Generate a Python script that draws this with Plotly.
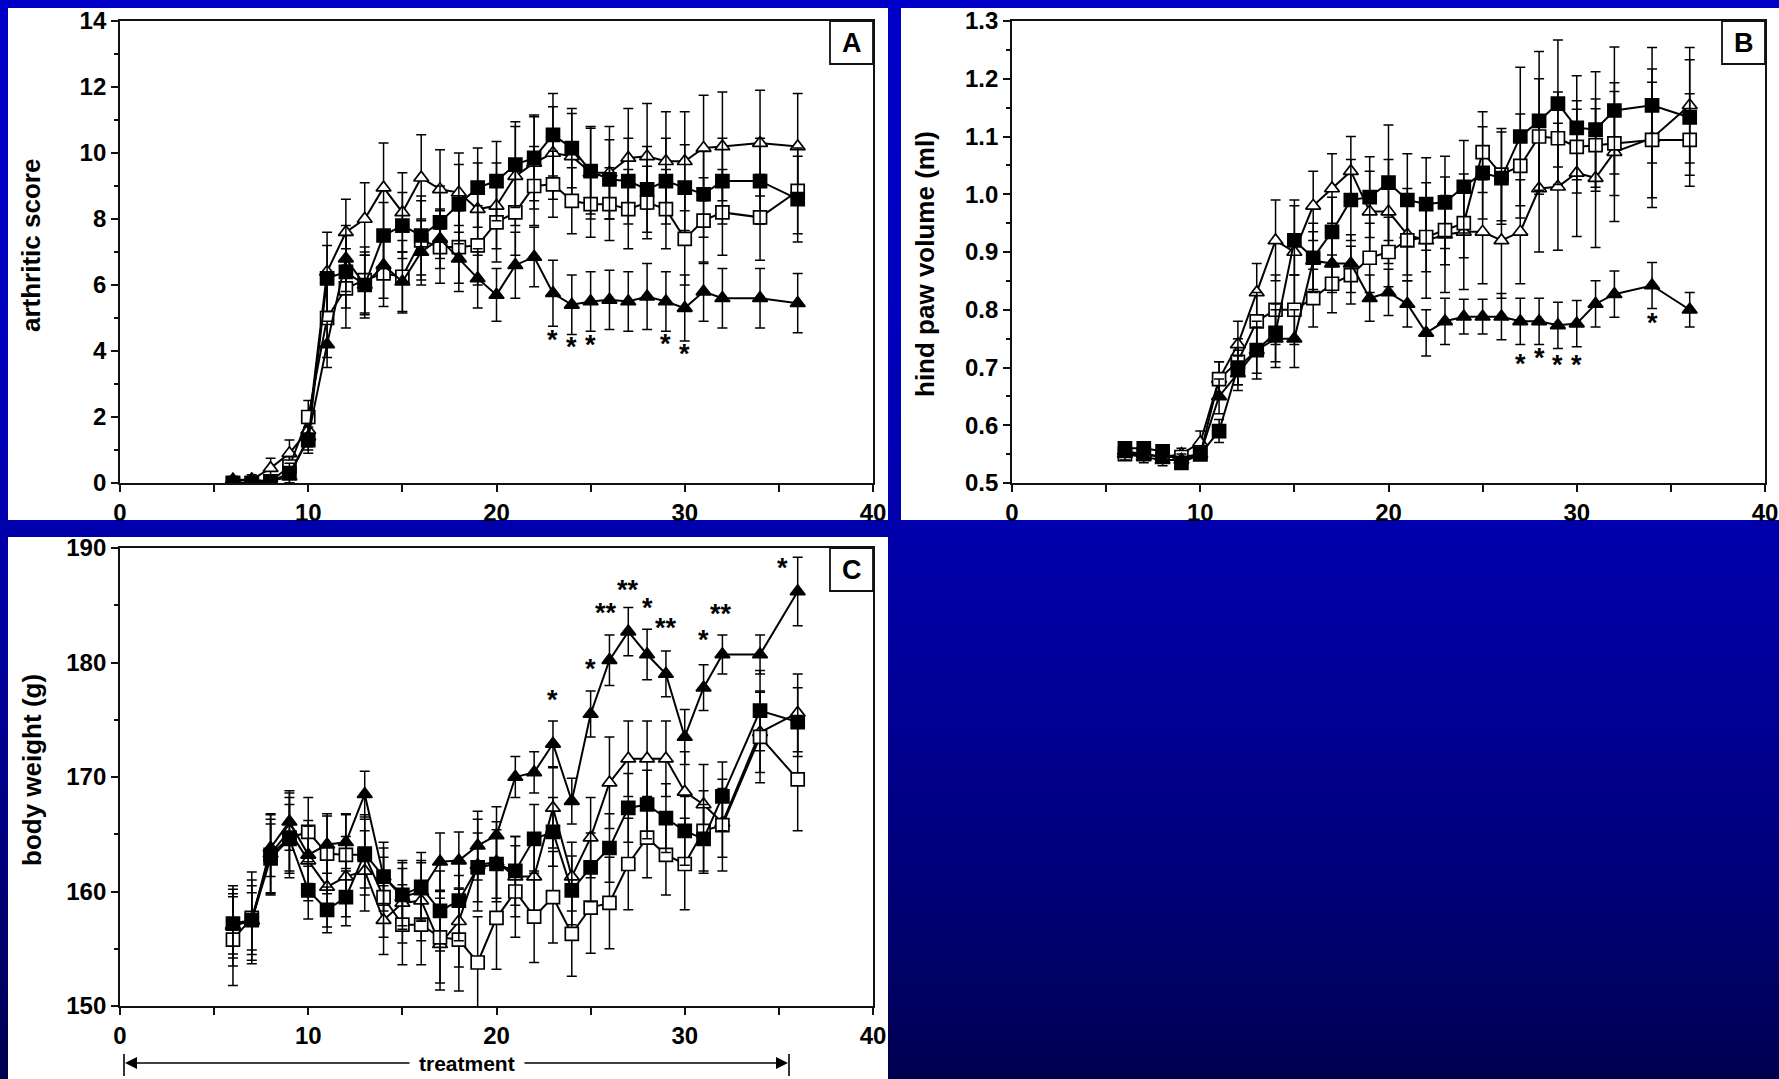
import plotly.graph_objects as go

W, H = 1779, 1079

# ---------------- data ----------------
days = [6, 7, 8, 9, 10, 11, 12, 13, 14, 15, 16, 17, 18, 19, 20, 21, 22, 23, 24, 25,
        26, 27, 28, 29, 30, 31, 32, 34, 36]

# Panel A: arthritic score
a_open_tri = [0.05, 0.1, 0.45, 0.9, 1.6, 6.4, 7.6, 8.0, 8.95, 8.2, 9.25, 8.9, 8.8, 8.3, 8.4,
              9.3, 9.7, 10.0, 9.9, 9.4, 9.4, 9.85, 9.9, 9.75, 9.75, 10.15, 10.2, 10.3, 10.2]
a_fill_sq = [0.0, 0.0, 0.05, 0.3, 1.3, 6.2, 6.4, 6.0, 7.5, 7.8, 7.5, 7.9, 8.45, 8.95, 9.15,
             9.65, 9.85, 10.55, 10.15, 9.45, 9.2, 9.15, 8.9, 9.15, 8.95, 8.75, 9.15, 9.15, 8.6]
a_open_sq = [0.0, 0.0, 0.05, 0.5, 2.0, 5.0, 5.9, 6.15, 6.35, 6.25, 7.35, 7.15, 7.15, 7.2, 7.9,
             8.2, 9.0, 9.05, 8.55, 8.45, 8.45, 8.3, 8.5, 8.3, 7.4, 7.95, 8.2, 8.05, 8.85]
a_fill_tri = [0.1, 0.1, 0.05, 0.2, 1.4, 4.2, 6.8, 6.0, 6.6, 6.1, 7.0, 7.4, 6.8, 6.2, 5.7,
              6.6, 6.85, 5.75, 5.4, 5.5, 5.55, 5.5, 5.65, 5.5, 5.3, 5.8, 5.6, 5.6, 5.45]
a_open_tri_err = [0.1, 0.15, 0.3, 0.4, 0.5, 1.2, 1.0, 1.1, 1.35, 1.2, 1.3, 1.2, 1.2, 1.4, 1.3,
                  1.5, 1.4, 1.4, 1.3, 1.4, 1.4, 1.5, 1.6, 1.5, 1.5, 1.6, 1.65, 1.6, 1.6]
a_fill_sq_err = [0.1, 0.1, 0.1, 0.3, 0.4, 1.0, 1.1, 1.0, 1.0, 1.0, 1.2, 1.1, 1.2, 1.2, 1.2,
                 1.3, 1.3, 1.25, 1.2, 1.3, 1.2, 1.3, 1.3, 1.3, 1.3, 1.3, 1.3, 1.3, 1.3]
a_open_sq_err = [0.1, 0.1, 0.1, 0.3, 0.5, 1.2, 1.2, 1.0, 1.0, 1.1, 1.2, 1.1, 1.1, 1.2, 1.2,
                 1.3, 1.2, 1.0, 1.0, 1.0, 1.1, 1.2, 1.1, 1.2, 1.4, 1.3, 1.3, 1.3, 1.3]
a_fill_tri_err = [0.1, 0.1, 0.1, 0.2, 0.4, 0.7, 1.0, 0.9, 1.0, 0.9, 1.0, 0.9, 1.0, 0.9, 0.8,
                  1.0, 0.9, 1.0, 0.9, 0.9, 0.9, 0.9, 1.0, 0.9, 1.0, 0.9, 0.9, 0.9, 0.9]
a_star_x = [23, 24, 25, 29, 30]
a_star_y = [4.2, 4.0, 4.05, 4.1, 3.8]
a_star_t = ["*", "*", "*", "*", "*"]

# Panel B: hind paw volume (ml)
b_open_tri = [0.555, 0.55, 0.545, 0.55, 0.57, 0.68, 0.74, 0.83, 0.92, 0.90, 0.98, 1.01, 1.04,
              0.97, 0.97, 0.93, 0.92, 0.93, 0.935, 0.935, 0.92, 0.935, 1.01, 1.013, 1.037,
              1.028, 1.073, 1.097, 1.154]
b_fill_sq = [0.56, 0.56, 0.555, 0.535, 0.55, 0.59, 0.70, 0.73, 0.76, 0.92, 0.89, 0.935, 0.99,
             0.995, 1.02, 0.99, 0.983, 0.986, 1.013, 1.037, 1.028, 1.10, 1.127, 1.157, 1.115,
             1.112, 1.145, 1.154, 1.133]
b_open_sq = [0.55, 0.55, 0.545, 0.545, 0.55, 0.68, 0.71, 0.78, 0.80, 0.80, 0.82, 0.845, 0.86,
             0.89, 0.90, 0.92, 0.926, 0.938, 0.95, 1.073, 1.034, 1.049, 1.10, 1.097, 1.082,
             1.085, 1.088, 1.094, 1.094]
b_fill_tri = [0.55, 0.545, 0.54, 0.54, 0.55, 0.65, 0.69, 0.73, 0.75, 0.75, 0.885, 0.88, 0.88,
              0.82, 0.83, 0.81, 0.76, 0.78, 0.788, 0.788, 0.788, 0.78, 0.78, 0.773, 0.776,
              0.81, 0.827, 0.842, 0.80]
b_open_tri_err = [0.01, 0.01, 0.01, 0.01, 0.02, 0.03, 0.04, 0.05, 0.07, 0.09, 0.06, 0.06, 0.06,
                  0.07, 0.09, 0.08, 0.1, 0.1, 0.1, 0.09, 0.1, 0.09, 0.11, 0.11, 0.11, 0.12,
                  0.12, 0.12, 0.1]
b_fill_sq_err = [0.01, 0.01, 0.01, 0.01, 0.01, 0.02, 0.03, 0.05, 0.05, 0.06, 0.06, 0.06, 0.07,
                 0.07, 0.1, 0.08, 0.08, 0.08, 0.08, 0.08, 0.08, 0.12, 0.12, 0.11, 0.09, 0.1,
                 0.11, 0.1, 0.1]
b_open_sq_err = [0.01, 0.01, 0.01, 0.01, 0.01, 0.03, 0.04, 0.05, 0.06, 0.06, 0.05, 0.05, 0.05,
                 0.06, 0.06, 0.06, 0.06, 0.06, 0.06, 0.07, 0.08, 0.09, 0.1, 0.08, 0.08, 0.08,
                 0.09, 0.1, 0.08]
b_fill_tri_err = [0.01, 0.01, 0.01, 0.01, 0.01, 0.03, 0.03, 0.04, 0.05, 0.05, 0.05, 0.05, 0.05,
                  0.04, 0.04, 0.04, 0.04, 0.04, 0.03, 0.03, 0.04, 0.04, 0.04, 0.04, 0.04, 0.04,
                  0.04, 0.04, 0.03]
b_star_x = [27, 28, 29, 30, 34]
b_star_y = [0.70, 0.71, 0.698, 0.698, 0.77]
b_star_t = ["*", "*", "*", "*", "*"]

# Panel C: body weight (g)
c_open_tri = [157.0, 157.5, 163.3, 165.3, 162.7, 160.4, 161.3, 161.8, 157.5, 159.0, 159.2,
              155.4, 157.4, 162.3, 162.6, 161.3, 161.3, 167.3, 161.3, 164.7, 169.5, 171.6,
              171.6, 171.6, 168.7, 167.6, 166.0, 173.9, 175.6]
c_fill_sq = [157.2, 157.5, 162.9, 164.6, 160.1, 158.4, 159.5, 163.3, 161.3, 159.7, 160.4,
             158.3, 159.2, 162.1, 162.4, 161.8, 164.6, 165.2, 160.1, 162.1, 163.8, 167.3,
             167.6, 166.4, 165.3, 164.6, 168.3, 175.8, 174.8]
c_open_sq = [155.8, 157.7, 163.2, 164.7, 165.2, 163.3, 163.2, 163.2, 159.5, 157.1, 157.1,
             156.0, 155.8, 153.8, 157.7, 160.0, 157.8, 159.5, 156.3, 158.6, 159.0, 162.4,
             164.7, 163.2, 162.4, 165.3, 165.8, 173.5, 169.8]
c_fill_tri = [157.05, 157.4, 163.8, 166.1, 163.2, 164.1, 164.3, 168.5, 161.3, 159.5, 160.0,
              162.6, 162.7, 164.0, 164.9, 170.0, 170.4, 172.9, 167.9, 175.5, 180.2, 182.7,
              180.7, 179.0, 173.5, 177.8, 180.7, 180.7, 186.2]
c_open_tri_err = [3.5, 3.5, 3.5, 3.5, 3.5, 3.5, 3.5, 3.5, 3.0, 3.5, 3.5, 4.0, 4.0, 4.0, 3.5,
                  3.5, 3.5, 3.5, 3.0, 3.5, 4.0, 3.3, 3.3, 3.3, 3.5, 3.5, 3.0, 3.5, 3.4]
c_fill_sq_err = [3.0, 3.0, 3.0, 3.0, 2.5, 2.0, 2.5, 3.0, 3.0, 3.0, 3.0, 3.5, 3.5, 3.0, 3.0,
                 3.0, 3.0, 3.0, 3.0, 3.0, 3.0, 3.0, 3.0, 3.0, 3.0, 3.0, 3.0, 3.5, 3.0]
c_open_sq_err = [4.0, 4.0, 3.5, 3.5, 3.0, 3.5, 3.5, 3.5, 3.5, 3.5, 3.5, 4.0, 4.5, 4.0, 4.5,
                 4.0, 4.0, 4.0, 3.7, 4.0, 4.0, 4.0, 3.5, 3.5, 4.0, 3.5, 4.0, 4.0, 4.5]
c_fill_tri_err = [2.5, 2.5, 2.5, 2.5, 2.5, 2.5, 2.5, 2.0, 2.5, 2.5, 2.5, 2.5, 2.5, 3.0, 2.5,
                  1.8, 1.8, 2.0, 2.0, 2.0, 2.2, 2.1, 2.2, 2.0, 2.4, 2.0, 1.7, 1.7, 3.0]
c_star_x = [23, 25, 25.8, 27, 28, 29, 31, 31.95, 35.2]
c_star_y = [176.4, 179.1, 184.0, 186.0, 184.4, 182.7, 181.6, 183.9, 187.9]
c_star_t = ["*", "*", "**", "**", "*", "**", "*", "**", "*"]

panel_letters = ["A", "B", "C"]
y_titles = ["arthritic score", "hind paw volume (ml)", "body weight (g)"]
x_label = "treatment"

# ---------------- helpers ----------------
def xp(px):
    return px / W

def yp(py):
    return 1 - py / H

FONT = "Liberation Sans"

# plot-area pixel boxes (left, right, top, bottom)
boxes = {
    "A": (120, 873, 21, 483),
    "B": (1012, 1765, 21, 483),
    "C": (120, 873, 548, 1006),
}

fig = go.Figure()

series_style = [
    ("open_tri", "triangle-up", "white"),
    ("open_sq", "square", "white"),
    ("fill_sq", "square", "black"),
    ("fill_tri", "triangle-up", "black"),
]

panel_data = {
    "A": dict(open_tri=(a_open_tri, a_open_tri_err), fill_sq=(a_fill_sq, a_fill_sq_err),
              open_sq=(a_open_sq, a_open_sq_err), fill_tri=(a_fill_tri, a_fill_tri_err)),
    "B": dict(open_tri=(b_open_tri, b_open_tri_err), fill_sq=(b_fill_sq, b_fill_sq_err),
              open_sq=(b_open_sq, b_open_sq_err), fill_tri=(b_fill_tri, b_fill_tri_err)),
    "C": dict(open_tri=(c_open_tri, c_open_tri_err), fill_sq=(c_fill_sq, c_fill_sq_err),
              open_sq=(c_open_sq, c_open_sq_err), fill_tri=(c_fill_tri, c_fill_tri_err)),
}
axis_ids = {"A": ("x", "y"), "B": ("x2", "y2"), "C": ("x3", "y3")}

for p in ["A", "B", "C"]:
    xa, ya = axis_ids[p]
    for key, sym, col in series_style:
        vals, errs = panel_data[p][key]
        fig.add_trace(go.Scatter(
            x=days, y=vals, xaxis=xa, yaxis=ya, mode="lines+markers",
            line=dict(color="black", width=2),
            marker=dict(symbol=sym, size=13, color=col, line=dict(color="black", width=1.7)),
            error_y=dict(type="data", array=errs, visible=True, color="black",
                         thickness=1.5, width=5),
            showlegend=False, hoverinfo="skip", cliponaxis=True,
        ))

# ---------------- layout ----------------
tickfont = dict(family=FONT, size=24, color="black", weight="bold")

def axis_common():
    return dict(showline=True, mirror=True, linecolor="#111", linewidth=1.8,
                ticks="outside", ticklen=7, tickwidth=1.5, tickcolor="#111",
                showgrid=False, zeroline=False, tickfont=tickfont, fixedrange=True,
                automargin=False)

layout_axes = {}
yconf = {
    "A": dict(range=[0, 14], dtick=2, tick0=0, minor=dict(dtick=1, ticks="outside", ticklen=4, tickcolor="#111")),
    "B": dict(range=[0.5, 1.3], dtick=0.1, tick0=0.5, tickformat=".1f",
              minor=dict(dtick=0.05, ticks="outside", ticklen=4, tickcolor="#111")),
    "C": dict(range=[150, 190], dtick=10, tick0=150, minor=dict(dtick=5, ticks="outside", ticklen=4, tickcolor="#111")),
}
names = {"A": ("xaxis", "yaxis"), "B": ("xaxis2", "yaxis2"), "C": ("xaxis3", "yaxis3")}
for p in ["A", "B", "C"]:
    l, r, t, b = boxes[p]
    xn, yn = names[p]
    xa, ya = axis_ids[p]
    xd = axis_common()
    xd.update(domain=[xp(l), xp(r)], range=[0, 40], dtick=10, tick0=0, anchor=ya,
              minor=dict(dtick=5, ticks="outside", ticklen=7, tickcolor="#111"))
    yd = axis_common()
    yd.update(domain=[yp(b), yp(t)], anchor=xa, **yconf[p])
    layout_axes[xn] = xd
    layout_axes[yn] = yd

shapes = []
# blue vertical gradient background
nb = 90
for i in range(nb):
    y0 = i * H / nb
    y1 = (i + 1) * H / nb + 1
    ym = (y0 + y1) / 2
    v = int(round(200 - 120 * (ym / H) ** 2))
    shapes.append(dict(type="rect", xref="paper", yref="paper", x0=0, x1=1,
                       y0=yp(min(y1, H)), y1=yp(y0), fillcolor=f"rgb(0,0,{v})",
                       line=dict(width=0), layer="below"))
# white panels
for (x0, x1, y0, y1) in [(8, 888, 8, 520), (901, 1779, 8, 520), (8, 888, 537, 1079)]:
    shapes.append(dict(type="rect", xref="paper", yref="paper", x0=xp(x0), x1=xp(x1),
                       y0=yp(y1), y1=yp(y0), fillcolor="white", line=dict(width=0),
                       layer="below"))
# letter boxes
annotations = []
for p, letter in zip(["A", "B", "C"], panel_letters):
    l, r, t, b = boxes[p]
    bx0, by1 = r - 43, t + 43
    shapes.append(dict(type="rect", xref="paper", yref="paper", x0=xp(bx0), x1=xp(r),
                       y0=yp(by1), y1=yp(t), fillcolor="white",
                       line=dict(color="#111", width=1.8), layer="above"))
    annotations.append(dict(x=xp((bx0 + r) / 2), y=yp((t + by1) / 2), xref="paper", yref="paper",
                            text=letter, showarrow=False, xanchor="center", yanchor="middle",
                            font=dict(family=FONT, size=27, color="black", weight="bold")))

# y-axis titles
for (xc, yc), txt in zip([(31, 246), (925, 264), (32, 770)], y_titles):
    annotations.append(dict(x=xp(xc), y=yp(yc), xref="paper", yref="paper", text=txt,
                            textangle=-90, showarrow=False, xanchor="center", yanchor="middle",
                            font=dict(family=FONT, size=26, color="black", weight="bold")))

# significance stars
for p, sx, sy, st in [("A", a_star_x, a_star_y, a_star_t),
                      ("B", b_star_x, b_star_y, b_star_t),
                      ("C", c_star_x, c_star_y, c_star_t)]:
    xa, ya = axis_ids[p]
    for xv, yv, tv in zip(sx, sy, st):
        annotations.append(dict(x=xv, y=yv, xref=xa, yref=ya, text=tv, showarrow=False,
                                xanchor="center", yanchor="middle", yshift=4,
                                font=dict(family=FONT, size=27, color="black", weight="bold")))

# treatment arrow
ty = 1063
annotations.append(dict(x=xp(467), y=yp(ty), xref="paper", yref="paper", text=x_label,
                        showarrow=False, xanchor="center", yanchor="middle",
                        font=dict(family=FONT, size=21, color="black", weight="bold")))
annotations.append(dict(x=xp(125), y=yp(ty), xref="paper", yref="paper", text="",
                        xanchor="center", yanchor="middle",
                        ax=411 - 125, ay=0, axref="pixel", ayref="pixel",
                        showarrow=True, arrowhead=2, arrowsize=1.6, arrowwidth=1.5,
                        arrowcolor="black"))
annotations.append(dict(x=xp(788), y=yp(ty), xref="paper", yref="paper", text="",
                        xanchor="center", yanchor="middle",
                        ax=523 - 788, ay=0, axref="pixel", ayref="pixel",
                        showarrow=True, arrowhead=2, arrowsize=1.6, arrowwidth=1.5,
                        arrowcolor="black"))
for bxp in [124, 789]:
    shapes.append(dict(type="line", xref="paper", yref="paper", x0=xp(bxp), x1=xp(bxp),
                       y0=yp(ty + 13), y1=yp(ty - 9), line=dict(color="black", width=1.6)))

fig.update_layout(
    width=W, height=H, margin=dict(l=0, r=0, t=0, b=0, pad=0, autoexpand=False),
    paper_bgcolor="rgb(0,0,200)", plot_bgcolor="rgba(0,0,0,0)",
    shapes=shapes, annotations=annotations, showlegend=False,
    **layout_axes,
)

fig.write_html("out.html", config={"displayModeBar": False},
               post_script="document.body.style.margin='0';document.body.style.overflow='hidden';")
